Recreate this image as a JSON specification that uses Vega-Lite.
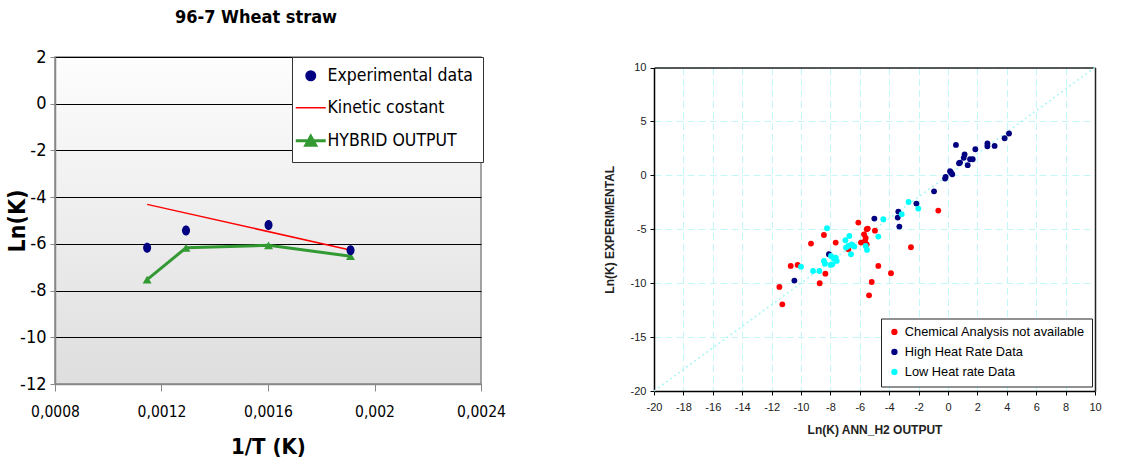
{
  "$schema": "https://vega.github.io/schema/vega-lite/v6.json",
  "background": "white",
  "padding": {"top": 8, "left": 5, "right": 5, "bottom": 5},
  "spacing": 96,
  "resolve": {"scale": {"color": "independent"}, "legend": {"color": "independent"}},
  "datasets": {
    "left": [
      {"x": 0.001146, "y": -6.17, "series": "Experimental data"},
      {"x": 0.001292, "y": -5.43, "series": "Experimental data"},
      {"x": 0.001602, "y": -5.19, "series": "Experimental data"},
      {"x": 0.00191, "y": -6.27, "series": "Experimental data"},
      {"x": 0.001146, "y": -4.31, "series": "Kinetic costant"},
      {"x": 0.0019, "y": -6.24, "series": "Kinetic costant"},
      {"x": 0.001146, "y": -7.53, "series": "HYBRID OUTPUT"},
      {"x": 0.001292, "y": -6.17, "series": "HYBRID OUTPUT"},
      {"x": 0.001602, "y": -6.06, "series": "HYBRID OUTPUT"},
      {"x": 0.00191, "y": -6.53, "series": "HYBRID OUTPUT"}
    ],
    "right": [
      {"x": -11.47, "y": -10.35, "group": "Chemical Analysis not available"},
      {"x": -11.27, "y": -11.96, "group": "Chemical Analysis not available"},
      {"x": -10.7, "y": -8.4, "group": "Chemical Analysis not available"},
      {"x": -10.23, "y": -8.31, "group": "Chemical Analysis not available"},
      {"x": -9.32, "y": -6.33, "group": "Chemical Analysis not available"},
      {"x": -8.73, "y": -10.01, "group": "Chemical Analysis not available"},
      {"x": -8.44, "y": -5.53, "group": "Chemical Analysis not available"},
      {"x": -8.34, "y": -9.12, "group": "Chemical Analysis not available"},
      {"x": -7.64, "y": -6.24, "group": "Chemical Analysis not available"},
      {"x": -6.78, "y": -6.86, "group": "Chemical Analysis not available"},
      {"x": -6.1, "y": -4.38, "group": "Chemical Analysis not available"},
      {"x": -5.92, "y": -6.24, "group": "Chemical Analysis not available"},
      {"x": -5.71, "y": -5.47, "group": "Chemical Analysis not available"},
      {"x": -5.6, "y": -5.8, "group": "Chemical Analysis not available"},
      {"x": -5.65, "y": -6.1, "group": "Chemical Analysis not available"},
      {"x": -5.53, "y": -5.0, "group": "Chemical Analysis not available"},
      {"x": -5.46, "y": -4.94, "group": "Chemical Analysis not available"},
      {"x": -5.53, "y": -6.4, "group": "Chemical Analysis not available"},
      {"x": -4.97, "y": -5.13, "group": "Chemical Analysis not available"},
      {"x": -4.74, "y": -8.4, "group": "Chemical Analysis not available"},
      {"x": -5.19, "y": -9.89, "group": "Chemical Analysis not available"},
      {"x": -5.37, "y": -11.13, "group": "Chemical Analysis not available"},
      {"x": -3.88, "y": -9.08, "group": "Chemical Analysis not available"},
      {"x": -2.52, "y": -6.67, "group": "Chemical Analysis not available"},
      {"x": -0.66, "y": -3.27, "group": "Chemical Analysis not available"},
      {"x": -10.45, "y": -9.76, "group": "High Heat Rate Data"},
      {"x": -8.1, "y": -7.32, "group": "High Heat Rate Data"},
      {"x": -5.01, "y": -4.01, "group": "High Heat Rate Data"},
      {"x": -3.42, "y": -3.92, "group": "High Heat Rate Data"},
      {"x": -3.38, "y": -3.36, "group": "High Heat Rate Data"},
      {"x": -3.31, "y": -4.75, "group": "High Heat Rate Data"},
      {"x": -2.15, "y": -2.62, "group": "High Heat Rate Data"},
      {"x": -0.95, "y": -1.48, "group": "High Heat Rate Data"},
      {"x": -0.2, "y": -0.3, "group": "High Heat Rate Data"},
      {"x": -0.16, "y": -0.15, "group": "High Heat Rate Data"},
      {"x": 0.14, "y": 0.38, "group": "High Heat Rate Data"},
      {"x": 0.2, "y": 0.26, "group": "High Heat Rate Data"},
      {"x": 0.29, "y": 0.1, "group": "High Heat Rate Data"},
      {"x": 0.54, "y": 2.82, "group": "High Heat Rate Data"},
      {"x": 0.75, "y": 1.12, "group": "High Heat Rate Data"},
      {"x": 0.82, "y": 1.18, "group": "High Heat Rate Data"},
      {"x": 1.07, "y": 1.62, "group": "High Heat Rate Data"},
      {"x": 1.13, "y": 1.93, "group": "High Heat Rate Data"},
      {"x": 1.34, "y": 0.94, "group": "High Heat Rate Data"},
      {"x": 1.5, "y": 1.49, "group": "High Heat Rate Data"},
      {"x": 1.68, "y": 1.49, "group": "High Heat Rate Data"},
      {"x": 1.86, "y": 2.42, "group": "High Heat Rate Data"},
      {"x": 2.68, "y": 2.95, "group": "High Heat Rate Data"},
      {"x": 2.68, "y": 2.7, "group": "High Heat Rate Data"},
      {"x": 3.17, "y": 2.73, "group": "High Heat Rate Data"},
      {"x": 3.85, "y": 3.44, "group": "High Heat Rate Data"},
      {"x": 4.15, "y": 3.88, "group": "High Heat Rate Data"},
      {"x": -10.0, "y": -8.47, "group": "Low Heat rate Data"},
      {"x": -9.18, "y": -8.87, "group": "Low Heat rate Data"},
      {"x": -8.75, "y": -8.87, "group": "Low Heat rate Data"},
      {"x": -8.44, "y": -7.94, "group": "Low Heat rate Data"},
      {"x": -8.37, "y": -8.19, "group": "Low Heat rate Data"},
      {"x": -8.23, "y": -4.91, "group": "Low Heat rate Data"},
      {"x": -7.96, "y": -7.48, "group": "Low Heat rate Data"},
      {"x": -7.87, "y": -8.25, "group": "Low Heat rate Data"},
      {"x": -7.76, "y": -7.72, "group": "Low Heat rate Data"},
      {"x": -7.57, "y": -7.94, "group": "Low Heat rate Data"},
      {"x": -7.64, "y": -7.63, "group": "Low Heat rate Data"},
      {"x": -7.98, "y": -8.31, "group": "Low Heat rate Data"},
      {"x": -6.98, "y": -6.02, "group": "Low Heat rate Data"},
      {"x": -6.71, "y": -5.62, "group": "Low Heat rate Data"},
      {"x": -6.94, "y": -6.7, "group": "Low Heat rate Data"},
      {"x": -6.78, "y": -6.55, "group": "Low Heat rate Data"},
      {"x": -6.6, "y": -7.32, "group": "Low Heat rate Data"},
      {"x": -6.49, "y": -6.49, "group": "Low Heat rate Data"},
      {"x": -6.37, "y": -6.61, "group": "Low Heat rate Data"},
      {"x": -6.55, "y": -6.4, "group": "Low Heat rate Data"},
      {"x": -5.6, "y": -6.55, "group": "Low Heat rate Data"},
      {"x": -5.51, "y": -6.92, "group": "Low Heat rate Data"},
      {"x": -4.74, "y": -5.68, "group": "Low Heat rate Data"},
      {"x": -4.4, "y": -4.07, "group": "Low Heat rate Data"},
      {"x": -3.15, "y": -3.61, "group": "Low Heat rate Data"},
      {"x": -2.68, "y": -2.47, "group": "Low Heat rate Data"},
      {"x": -2.02, "y": -3.08, "group": "Low Heat rate Data"}
    ],
    "diag": [
      {"x": -20, "y": -20},
      {"x": 10, "y": 10}
    ]
  },
  "hconcat": [
    {
      "width": 426,
      "height": 327,
      "title": {
        "text": "96-7 Wheat straw",
        "font": "DejaVu Sans Condensed, Liberation Sans, sans-serif",
        "fontSize": 18,
        "fontWeight": "bold",
        "color": "#000",
        "offset": 21,
        "anchor": "middle",
        "frame": "bounds"
      },
      "view": {
        "stroke": "#888",
        "strokeWidth": 1.5,
        "fill": {
          "gradient": "linear",
          "x1": 0, "y1": 0, "x2": 0, "y2": 1,
          "stops": [
            {"offset": 0, "color": "#fdfdfd"},
            {"offset": 1, "color": "#dedede"}
          ]
        }
      },
      "data": {"name": "left"},
      "encoding": {
        "x": {
          "field": "x",
          "type": "quantitative",
          "scale": {"domain": [0.0008, 0.0024], "nice": false, "zero": false},
          "axis": {
            "title": "1/T (K)",
            "values": [0.0008, 0.0012, 0.0016, 0.002, 0.0024],
            "format": ".4~f",
            "labelExpr": "replace(datum.label, '.', ',')",
            "grid": false,
            "domainColor": "#888",
            "domainWidth": 1.5,
            "tickColor": "#888",
            "tickSize": 7,
            "labelFont": "DejaVu Sans Condensed, Liberation Sans, sans-serif",
            "labelFontSize": 15.5,
            "labelColor": "#000",
            "labelPadding": 13,
            "labelFlush": false,
            "titleFont": "DejaVu Sans Condensed, Liberation Sans, sans-serif",
            "titleFontSize": 22,
            "titleFontWeight": "bold",
            "titleColor": "#000",
            "titlePadding": 17
          }
        },
        "y": {
          "field": "y",
          "type": "quantitative",
          "scale": {"domain": [-12, 2], "nice": false},
          "axis": {
            "title": "Ln(K)",
            "values": [-12, -10, -8, -6, -4, -2, 0, 2],
            "labelExpr": "replace(datum.label, '−', '-')",
            "grid": true,
            "gridColor": "#000",
            "gridWidth": 1,
            "gridOpacity": 1,
            "domainColor": "#888",
            "domainWidth": 1.5,
            "tickColor": "#888",
            "tickSize": 5,
            "labelFont": "DejaVu Sans Condensed, Liberation Sans, sans-serif",
            "labelFontSize": 18,
            "labelColor": "#000",
            "labelPadding": 4,
            "titleFont": "DejaVu Sans Condensed, Liberation Sans, sans-serif",
            "titleFontSize": 23,
            "titleFontWeight": "bold",
            "titleColor": "#000",
            "titlePadding": -10
          }
        },
        "color": {
          "field": "series",
          "type": "nominal",
          "scale": {
            "domain": ["Experimental data", "Kinetic costant", "HYBRID OUTPUT"],
            "range": ["#000080", "#ff0000", "#339933"]
          },
          "legend": {
            "title": null,
            "orient": "none",
            "legendX": 237,
            "legendY": 0,
            "strokeColor": "#333",
            "fillColor": "white",
            "padding": 10,
            "rowPadding": 13,
            "labelLimit": 0,
            "labelFont": "DejaVu Sans Condensed, Liberation Sans, sans-serif",
            "labelFontSize": 17.5,
            "labelColor": "#000",
            "labelOffset": 8,
            "symbolType": "circle",
            "encode": {
              "symbols": {
                "update": {
                  "shape": {"signal": "datum.value === 'HYBRID OUTPUT' ? 'M-1,0H1M-0.33,0.3L0,-0.3L0.33,0.3Z' : (datum.value === 'Kinetic costant' ? 'stroke' : 'circle')"},
                  "size": {"signal": "datum.value === 'Experimental data' ? 90 : 900"},
                  "fill": {"signal": "datum.value === 'Experimental data' ? '#000080' : (datum.value === 'HYBRID OUTPUT' ? '#339933' : 'transparent')"},
                  "stroke": {"signal": "datum.value === 'Experimental data' ? 'transparent' : (datum.value === 'HYBRID OUTPUT' ? '#339933' : '#ff0000')"},
                  "strokeWidth": {"signal": "datum.value === 'HYBRID OUTPUT' ? 3 : 1.5"},
                  "opacity": {"value": 1}
                }
              }
            }
          }
        }
      },
      "layer": [
        {
          "transform": [{"filter": "datum.series === 'Kinetic costant'"}],
          "mark": {"type": "line", "strokeWidth": 1.5}
        },
        {
          "transform": [{"filter": "datum.series === 'HYBRID OUTPUT'"}],
          "mark": {"type": "line", "strokeWidth": 3}
        },
        {
          "transform": [{"filter": "datum.series === 'HYBRID OUTPUT'"}],
          "mark": {"type": "point", "shape": "triangle-up", "filled": true, "size": 80, "opacity": 1}
        },
        {
          "transform": [{"filter": "datum.series === 'Experimental data'"}],
          "mark": {"type": "point", "shape": "M-0.8,0A0.8,1 0 1,0 0.8,0A0.8,1 0 1,0 -0.8,0Z", "filled": true, "size": 100, "opacity": 1}
        }
      ]
    },
    {
      "width": 441,
      "height": 334,
      "view": {"stroke": null},
      "resolve": {"axis": {"x": "independent", "y": "independent"}},
      "layer": [
        {
          "data": {"name": "diag"},
          "mark": {"type": "line", "color": "#aaf5f5", "strokeWidth": 1.5, "strokeDash": [2, 3]},
          "encoding": {
            "x": {
              "field": "x",
              "type": "quantitative",
              "scale": {"domain": [-20, 10], "nice": false, "zero": false},
              "axis": {
                "orient": "top",
                "offset": -10.5,
                "title": null,
                "labels": false,
                "grid": false,
                "values": [-18, -16, -14, -12, -10, -8, -6, -4, -2, 0, 2, 4, 6, 8],
                "ticks": true,
                "tickSize": -323.5,
                "tickColor": "#c4f7f7",
                "tickDash": [7, 4],
                "tickWidth": 1,
                "domain": true,
                "domainColor": "#222",
                "domainWidth": 1.5
              }
            },
            "y": {
              "field": "y",
              "type": "quantitative",
              "scale": {"domain": [-20, 10], "nice": false, "zero": false, "range": [334, 10.5]},
              "axis": {
                "orient": "right",
                "title": null,
                "labels": false,
                "ticks": false,
                "grid": false,
                "domain": true,
                "domainColor": "#222",
                "domainWidth": 1.5
              }
            }
          }
        },
        {
          "data": {"name": "right"},
          "mark": {"type": "circle", "size": 34, "opacity": 1},
          "encoding": {
            "x": {
              "field": "x",
              "type": "quantitative",
              "scale": {"domain": [-20, 10], "nice": false, "zero": false},
              "axis": {
                "orient": "bottom",
                "title": "Ln(K) ANN_H2 OUTPUT",
                "values": [-20, -18, -16, -14, -12, -10, -8, -6, -4, -2, 0, 2, 4, 6, 8, 10],
                "labelExpr": "replace(datum.label, '−', '-')",
                "labelFlush": false,
                "grid": false,
                "domainColor": "#000",
                "domainWidth": 1.5,
                "tickColor": "#000",
                "tickSize": 4,
                "labelFont": "Liberation Sans",
                "labelFontSize": 11,
                "labelColor": "#222",
                "labelPadding": 6,
                "titleFont": "Liberation Sans",
                "titleFontSize": 12,
                "titleFontWeight": "bold",
                "titleColor": "#222",
                "titlePadding": 12
              }
            },
            "y": {
              "field": "y",
              "type": "quantitative",
              "scale": {"domain": [-20, 10], "nice": false, "zero": false, "range": [334, 10.5]},
              "axis": {
                "orient": "left",
                "title": "Ln(K) EXPERIMENTAL",
                "values": [-20, -15, -10, -5, 0, 5, 10],
                "labelExpr": "replace(datum.label, '−', '-')",
                "grid": true,
                "gridColor": "#c4f7f7",
                "gridDash": [7, 4],
                "gridWidth": 1,
                "domainColor": "#000",
                "domainWidth": 1.5,
                "tickColor": "#000",
                "tickSize": 4,
                "labelFont": "Liberation Sans",
                "labelFontSize": 11,
                "labelColor": "#222",
                "labelPadding": 4,
                "titleFont": "Liberation Sans",
                "titleFontSize": 12,
                "titleFontWeight": "bold",
                "titleColor": "#222",
                "titlePadding": 14
              }
            },
            "color": {
              "field": "group",
              "type": "nominal",
              "scale": {
                "domain": ["Chemical Analysis not available", "High Heat Rate Data", "Low Heat rate Data"],
                "range": ["#ff0000", "#000080", "#00ffff"]
              },
              "legend": {
                "title": null,
                "orient": "none",
                "legendX": 227,
                "legendY": 261.5,
                "strokeColor": "#222",
                "fillColor": "white",
                "padding": 7,
                "rowPadding": 6,
                "labelLimit": 0,
                "labelFont": "Liberation Sans",
                "labelFontSize": 12.8,
                "labelColor": "#000",
                "symbolType": "circle",
                "symbolSize": 40,
                "symbolOpacity": 1
              }
            }
          }
        }
      ]
    }
  ],
  "config": {"legend": {"symbolStrokeWidth": 0}}
}
